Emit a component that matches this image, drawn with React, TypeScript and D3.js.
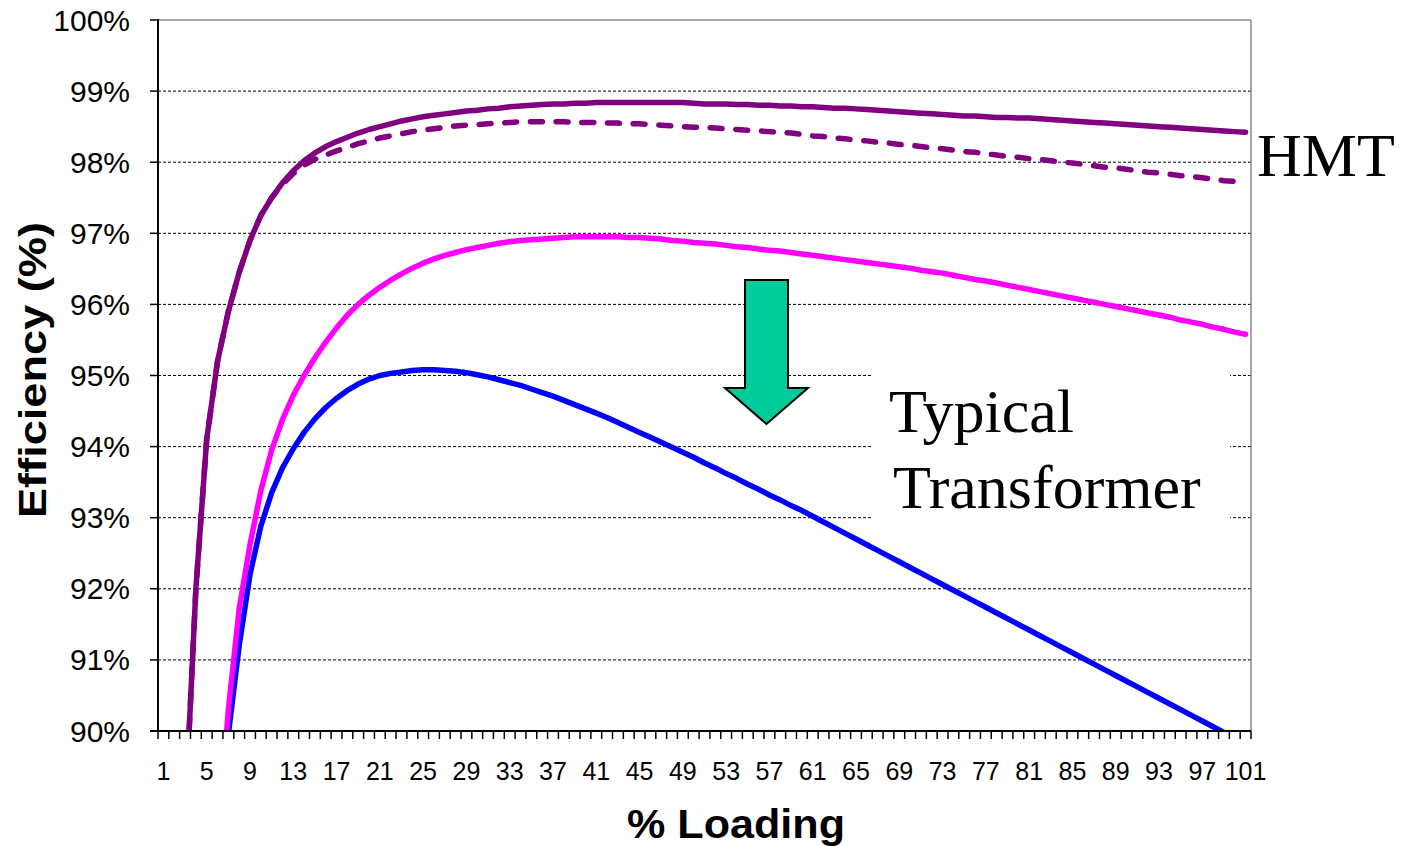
import React from "react";
import * as d3 from "d3";

const categories: number[] = Array.from({ length: 101 }, (_, i) => i + 1);

const hmtSolid: number[] = [
  77.0, 85.0, 88.8, 92.0, 94.1, 95.2, 95.9, 96.45, 96.9, 97.25,
  97.5, 97.71, 97.88, 98.02, 98.13, 98.22, 98.29, 98.35, 98.41, 98.46,
  98.5, 98.54, 98.58, 98.61, 98.64, 98.66, 98.68, 98.7, 98.72, 98.73,
  98.75, 98.76, 98.78, 98.79, 98.8, 98.81, 98.82, 98.82, 98.83, 98.83,
  98.84, 98.84, 98.84, 98.84, 98.84, 98.84, 98.84, 98.84, 98.84, 98.83,
  98.82, 98.82, 98.82, 98.81, 98.81, 98.8, 98.8, 98.79, 98.79, 98.78,
  98.78, 98.77, 98.76, 98.76, 98.75, 98.74, 98.73, 98.72, 98.71, 98.7,
  98.69, 98.68, 98.67, 98.66, 98.65, 98.65, 98.64, 98.63, 98.63, 98.62,
  98.62, 98.61, 98.6, 98.59, 98.58, 98.57, 98.56, 98.55, 98.54, 98.53,
  98.52, 98.51, 98.5, 98.49, 98.48, 98.47, 98.46, 98.45, 98.44, 98.43,
  98.42,
];

const hmtDashed: number[] = [
  77.0, 85.0, 88.8, 92.0, 94.1, 95.2, 95.9, 96.45, 96.9, 97.25,
  97.5, 97.69, 97.84, 97.96, 98.04, 98.1, 98.16, 98.21, 98.26, 98.3,
  98.34, 98.37, 98.4, 98.43, 98.45, 98.47, 98.49, 98.51, 98.52, 98.53,
  98.54, 98.55, 98.56, 98.57, 98.57, 98.57, 98.57, 98.57, 98.56, 98.56,
  98.56, 98.55, 98.55, 98.54, 98.54, 98.53, 98.52, 98.51, 98.5, 98.49,
  98.49, 98.48, 98.47, 98.46, 98.45, 98.44, 98.43, 98.42, 98.41, 98.39,
  98.37, 98.36, 98.34, 98.33, 98.31, 98.3, 98.28, 98.27, 98.25, 98.24,
  98.22, 98.2, 98.19, 98.17, 98.15, 98.14, 98.12, 98.1, 98.08, 98.07,
  98.05, 98.04, 98.02, 98.0, 97.99, 97.97, 97.95, 97.93, 97.92, 97.9,
  97.88, 97.86, 97.85, 97.83, 97.81, 97.8, 97.78, 97.76, 97.74, 97.73,
  97.71,
];

const typicalUpper: number[] = [
  70.0, 76.0, 80.5, 83.5, 86.0, 88.3, 90.3, 91.72, 92.62, 93.38,
  93.95, 94.38, 94.72, 95.0, 95.25, 95.47, 95.67, 95.85, 96.0, 96.13,
  96.24, 96.34, 96.43, 96.51, 96.58, 96.64, 96.69, 96.73, 96.77, 96.8,
  96.83, 96.86, 96.88, 96.9, 96.91, 96.92, 96.93, 96.94, 96.95, 96.95,
  96.95, 96.95, 96.95, 96.94, 96.94, 96.93, 96.92, 96.9, 96.89, 96.87,
  96.86, 96.85, 96.83, 96.81, 96.8, 96.78, 96.76, 96.75, 96.73, 96.71,
  96.69, 96.67, 96.65, 96.63, 96.61, 96.59, 96.57, 96.55, 96.53, 96.51,
  96.48, 96.46, 96.44, 96.41, 96.38, 96.35, 96.33, 96.3, 96.27, 96.24,
  96.21, 96.18, 96.15, 96.12, 96.09, 96.06, 96.03, 96.0, 95.97, 95.94,
  95.91, 95.88, 95.85, 95.82, 95.78, 95.75, 95.72, 95.68, 95.65, 95.61,
  95.58,
];

const typicalLower: number[] = [
  60.0, 70.0, 77.0, 82.0, 85.0, 87.5, 89.95, 91.2, 92.2, 92.88,
  93.35, 93.7, 93.97, 94.2, 94.39, 94.55, 94.68, 94.79, 94.88, 94.95,
  95.0, 95.03, 95.05, 95.07, 95.08, 95.08, 95.07, 95.06, 95.04, 95.01,
  94.98, 94.94, 94.9, 94.86, 94.81, 94.76, 94.71, 94.65, 94.59, 94.53,
  94.47, 94.41, 94.34, 94.27, 94.2, 94.13, 94.06, 93.99, 93.92, 93.85,
  93.77, 93.7, 93.62, 93.55, 93.47, 93.4, 93.32, 93.25, 93.17, 93.1,
  93.02, 92.94, 92.86, 92.78, 92.7, 92.62, 92.54, 92.46, 92.38, 92.3,
  92.22, 92.14, 92.06, 91.98, 91.9, 91.82, 91.74, 91.66, 91.58, 91.5,
  91.42, 91.34, 91.26, 91.18, 91.1, 91.02, 90.94, 90.86, 90.78, 90.7,
  90.62, 90.54, 90.46, 90.38, 90.3, 90.22, 90.14, 90.06, 89.98, 89.9,
  89.82,
];

const yTicks: number[] = [90, 91, 92, 93, 94, 95, 96, 97, 98, 99, 100];
const xLabelCategories: number[] = categories.filter((c) => (c - 1) % 4 === 0);

const W = 1402;
const H = 846;
const L = 158;
const R = 1251;
const T = 20;
const B = 731;

export default function App() {
  const x = d3.scaleBand<number>().domain(categories).range([L, R]).padding(0);
  const bw = x.bandwidth();
  const cx = (c: number) => (x(c) as number) + bw / 2;
  const y = d3.scaleLinear().domain([90, 100]).range([B, T]);

  const line = d3
    .line<number>()
    .x((_, i) => cx(categories[i]))
    .y((d) => y(d));

  const series = [
    { data: typicalLower, color: "#0000FF", dash: undefined as string | undefined },
    { data: typicalUpper, color: "#FF00FF", dash: undefined },
    { data: hmtDashed, color: "#800080", dash: "12 13.7" },
    { data: hmtSolid, color: "#800080", dash: undefined },
  ];

  const tickXs = d3.range(categories.length + 1).map((i) => L + i * bw);

  const ax0 = 745, ax1 = 788, ayTop = 280, ayHead = 388, ahx0 = 725, ahx1 = 808, atipX = 766.5, atipY = 424;
  const arrowPath = `M${ax0},${ayTop} L${ax1},${ayTop} L${ax1},${ayHead} L${ahx1},${ayHead} L${atipX},${atipY} L${ahx0},${ayHead} L${ax0},${ayHead} Z`;

  return (
    <div style={{ position: "absolute", left: 0, top: 0 }}>
      <svg width={W} height={H} style={{ display: "block", background: "#fff" }}>
        <defs>
          <clipPath id="plotClip">
            <rect x={L} y={T} width={R - L} height={B - T} />
          </clipPath>
        </defs>
        <rect x={0} y={0} width={W} height={H} fill="#fff" />

        {yTicks
          .filter((v) => v > 90 && v < 100)
          .map((v) => (
            <line
              key={"g" + v}
              x1={L}
              x2={R}
              y1={y(v)}
              y2={y(v)}
              stroke="#000"
              strokeWidth={1}
              strokeDasharray="3 2"
            />
          ))}
        <line x1={L} x2={R} y1={T} y2={T} stroke="#888" strokeWidth={1.5} />
        <line x1={R} x2={R} y1={T} y2={B} stroke="#888" strokeWidth={1.5} />

        <rect x={871} y={364} width={359} height={160} fill="#fff" />

        <g clipPath="url(#plotClip)">
          {series.map((s, i) => (
            <path
              key={i}
              d={line(s.data) || ""}
              fill="none"
              stroke={s.color}
              strokeWidth={5.5}
              strokeLinejoin="round"
              strokeLinecap="round"
              strokeDasharray={s.dash}
            />
          ))}
        </g>

        <line x1={L} x2={L} y1={T - 1} y2={B} stroke="#000" strokeWidth={2} />
        <line x1={L - 8} x2={R} y1={B} y2={B} stroke="#000" strokeWidth={2} />
        {yTicks.map((v) => (
          <g key={"yt" + v}>
            <line x1={L - 8} x2={L} y1={y(v)} y2={y(v)} stroke="#000" strokeWidth={1.5} />
            <text
              x={130}
              y={y(v)}
              textAnchor="end"
              dominantBaseline="central"
              fontFamily="'Liberation Sans', Arial, sans-serif"
              fontSize={30}
              fill="#000"
            >
              {v + "%"}
            </text>
          </g>
        ))}
        {tickXs.map((tx, i) => (
          <line key={"xt" + i} x1={tx} x2={tx} y1={B} y2={B + 8} stroke="#000" strokeWidth={1.5} />
        ))}
        {xLabelCategories.map((c) => (
          <text
            key={"xl" + c}
            x={cx(c)}
            y={780}
            textAnchor="middle"
            fontFamily="'Liberation Sans', Arial, sans-serif"
            fontSize={25}
            fill="#000"
          >
            {c}
          </text>
        ))}

        <text
          x={736}
          y={838}
          textAnchor="middle"
          fontFamily="'Liberation Sans', Arial, sans-serif"
          fontWeight="bold"
          fontSize={40}
          textLength={218}
          lengthAdjust="spacingAndGlyphs"
          fill="#000"
        >
          % Loading
        </text>
        <text
          transform="translate(46,370) rotate(-90)"
          textAnchor="middle"
          fontFamily="'Liberation Sans', Arial, sans-serif"
          fontWeight="bold"
          fontSize={38}
          textLength={296}
          lengthAdjust="spacingAndGlyphs"
          fill="#000"
        >
          Efficiency (%)
        </text>

        <path d={arrowPath} fill="#00CC99" stroke="#000" strokeWidth={2} strokeLinejoin="miter" />

        <text x={1257} y={176} fontFamily="'Liberation Serif', 'Times New Roman', serif" fontSize={62} fill="#000">
          HMT
        </text>
        <text x={889} y={432} fontFamily="'Liberation Serif', 'Times New Roman', serif" fontSize={62} fill="#000">
          Typical
        </text>
        <text x={893} y={508} fontFamily="'Liberation Serif', 'Times New Roman', serif" fontSize={62} fill="#000">
          Transformer
        </text>
      </svg>
    </div>
  );
}
